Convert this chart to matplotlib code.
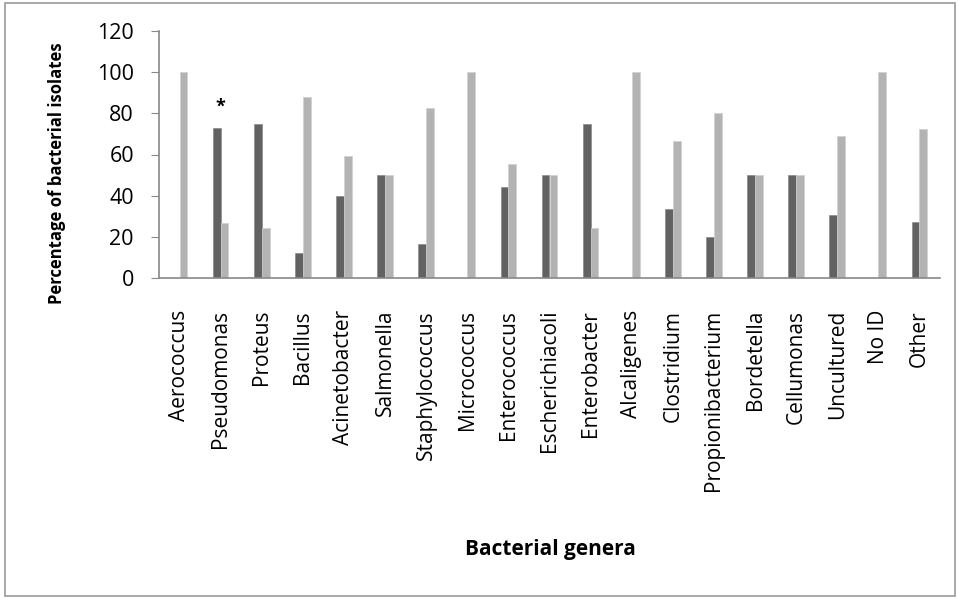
import numpy as np
import matplotlib
matplotlib.use('Agg')
import matplotlib.pyplot as plt
from matplotlib.patches import Rectangle

genera = ['Aerococcus', 'Pseudomonas', 'Proteus', 'Bacillus', 'Acinetobacter',
          'Salmonella', 'Staphylococcus', 'Micrococcus', 'Enterococcus',
          'Escherichiacoli', 'Enterobacter', 'Alcaligenes', 'Clostridium',
          'Propionibacterium', 'Bordetella', 'Cellumonas', 'Uncultured', 'No ID', 'Other']
darkVals = [0, 73, 75, 12, 40, 50, 16.7, 0, 44, 50, 75, 0, 33.3, 20, 50, 50, 30.8, 0, 27.3]
lightVals = [100, 26.5, 24.5, 88, 59.5, 50, 82.5, 100, 55.5, 50, 24.5, 100, 66.7, 80, 50, 50, 69.2, 100, 72.2]
yTicks = [0, 20, 40, 60, 80, 100, 120]

darkColour = '#626262'
lightColour = '#b3b3b3'
plt.rcParams['font.family'] = ['Open Sans', 'DejaVu Sans']

fig = plt.figure(figsize=(9.58, 5.98), dpi=100)
ax = fig.add_axes([159/958, 1 - 278/598, (940 - 159)/958, (278 - 31)/598])

x = np.arange(len(genera))
w = 0.19
ax.bar(x - w/2, darkVals, width=w, color=darkColour, edgecolor='#8a8a8a', linewidth=0.5)
ax.bar(x + w/2, lightVals, width=w, color=lightColour, edgecolor='#d0d0d0', linewidth=0.5)

# significance mark
ax.text(1, 83, '*', ha='center', va='center', fontsize=13, fontweight='bold')

ax.set_xlim(-0.5, len(genera) - 0.5)
ax.set_ylim(0, 120)
ax.set_yticks(yTicks)
ax.set_xticks(x)
ax.set_xticklabels(genera, rotation=90, fontsize=15)
ax.tick_params(axis='x', length=0, pad=23)
ax.tick_params(axis='y', direction='out', length=6, color='#888888', labelsize=15.5, pad=12)

for s in ['top', 'right']:
    ax.spines[s].set_visible(False)
ax.spines['left'].set_color('#888888')
ax.spines['bottom'].set_color('#888888')
ax.spines['left'].set_linewidth(1.2)
ax.spines['bottom'].set_linewidth(1.2)

fig.text(57/958, 1 - 173/598, 'Percentage of bacterial isolates', rotation=90,
         ha='center', va='center', fontsize=12, fontweight='bold')
fig.text(550/958, 1 - 550/598, 'Bacterial genera', ha='center', va='center',
         fontsize=15, fontweight='bold')

# outer frame
fig.patches.append(Rectangle((5/958, 2/598), 950/958, 593/598, transform=fig.transFigure,
                             fill=False, edgecolor='#9a9a9a', linewidth=1.2))

fig.savefig('out.png', dpi=100)
